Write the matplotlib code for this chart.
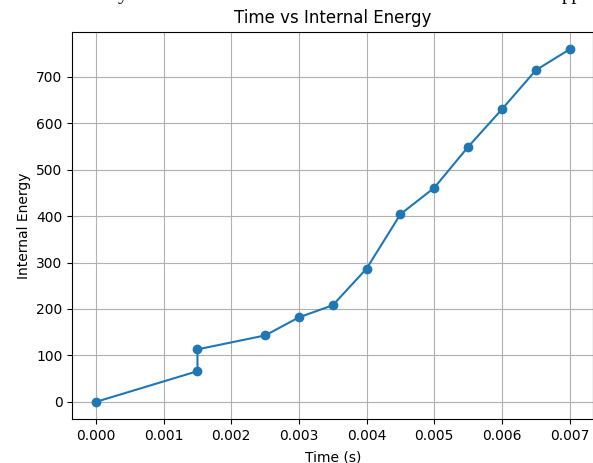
import matplotlib
matplotlib.use("Agg")
import matplotlib.pyplot as plt

# time (s) and internal energy
time_s = [0.0, 0.0015, 0.0015, 0.0025, 0.003, 0.0035, 0.004, 0.0045,
          0.005, 0.0055, 0.006, 0.0065, 0.007]
energy = [0, 66, 113, 143, 182, 208, 287, 404, 461, 549, 630, 714, 759]

fig = plt.figure(figsize=(5.93, 4.63), dpi=100)
ax = fig.add_axes([0.1219, 0.094, 0.8786, 0.8375])

ax.plot(time_s, energy, marker="o")
ax.set_title("Time vs Internal Energy")
ax.set_xlabel("Time (s)", labelpad=5.5)
ax.set_ylabel("Internal Energy")
ax.grid(True)

# bits of the page text above the figure, cut off by the screenshot
fig.text(0.199, 1.0 + 1 / 463, "y", family="Liberation Serif", fontsize=15,
         va="baseline", ha="left")
fig.text(0.948, 1.0 + 1 / 463, "pp", family="Liberation Serif", fontsize=15,
         va="baseline", ha="left")

fig.savefig("out.png", dpi=100)
